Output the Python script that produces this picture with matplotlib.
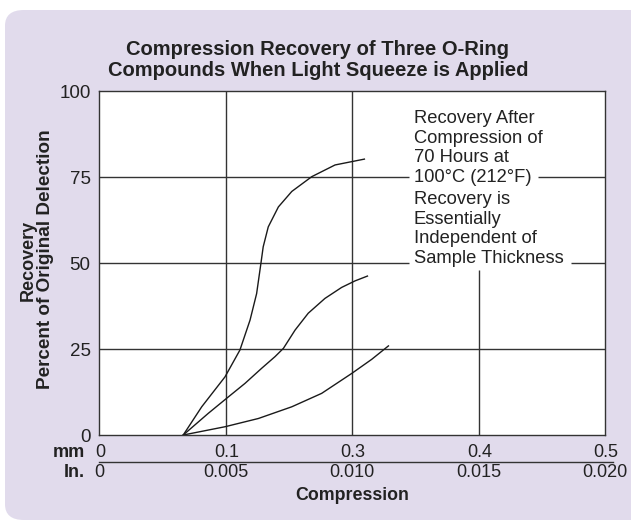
import matplotlib.pyplot as plt
from matplotlib.patches import FancyBboxPatch
import matplotlib.transforms as mtransforms

plt.rcParams['font.family'] = ['Liberation Sans', 'DejaVu Sans']

# Data (x in inches of compression, y in % recovery)
curve_high_x = [0.00333, 0.00406, 0.00498, 0.00557, 0.00597, 0.00623, 0.00640, 0.00649,
                0.00669, 0.00709, 0.00762, 0.00841, 0.00933, 0.01049]
curve_high_y = [0, 8.2, 16.9, 24.7, 33.4, 41.1, 49.9, 54.7, 60.5, 66.3, 70.8, 75.1, 78.5, 80.2]
curve_mid_x = [0.00333, 0.00432, 0.00505, 0.00577, 0.00643, 0.00696, 0.00729, 0.00775,
               0.00827, 0.00893, 0.00959, 0.01012, 0.01061]
curve_mid_y = [0, 6.3, 10.7, 15.0, 19.4, 22.8, 25.2, 30.5, 35.4, 39.7, 42.9, 44.8, 46.2]
curve_low_x = [0.00333, 0.00498, 0.00630, 0.00762, 0.00880, 0.00999, 0.01078, 0.01144]
curve_low_y = [0, 2.4, 4.8, 8.2, 12.1, 17.9, 22.0, 25.9]

inch_ticks = [0, 0.005, 0.010, 0.015, 0.020]
inch_labels = ['0', '0.005', '0.010', '0.015', '0.020']
mm_labels = ['0', '0.1', '0.3', '0.4', '0.5']
y_ticks = [0, 25, 50, 75, 100]

title = 'Compression Recovery of Three O-Ring\nCompounds When Light Squeeze is Applied'
note_top = 'Recovery After\nCompression of\n70 Hours at\n100°C (212°F)'
note_bottom = 'Recovery is\nEssentially\nIndependent of\nSample Thickness'


def draw_chart():
    fig = plt.figure(figsize=(6.31, 5.25), dpi=100)
    bg = '#e1dbec'
    ink = '#222222'
    # rounded lavender panel
    panel = FancyBboxPatch((5 / 631, 5 / 525), 700 / 631, 510 / 525,
                           boxstyle='round,pad=0,rounding_size=0.03',
                           transform=fig.transFigure, facecolor=bg,
                           edgecolor='none', zorder=-1)
    fig.patches.append(panel)

    ax = fig.add_axes([99 / 631, 1 - 435 / 525, 506 / 631, 344 / 525])
    ax.set_zorder(1)
    ax.set_facecolor('white')
    ax.set_xlim(0, 0.020)
    ax.set_ylim(0, 100)
    for s in ax.spines.values():
        s.set_color('#333333')
        s.set_linewidth(1.0)

    # grid, broken where the notes sit
    gc = '#333333'
    ax.vlines([0.005, 0.010], 0, 100, color=gc, lw=1.0)
    ax.vlines(0.015, 0, 48.0, color=gc, lw=1.0)
    ax.hlines(25, 0, 0.020, color=gc, lw=1.0)
    ax.hlines([50, 75], 0, 0.01225, color=gc, lw=1.0)
    ax.hlines(75, 0.01735, 0.020, color=gc, lw=1.0)
    ax.hlines(50, 0.01866, 0.020, color=gc, lw=1.0)

    for xs, ys in [(curve_high_x, curve_high_y), (curve_mid_x, curve_mid_y), (curve_low_x, curve_low_y)]:
        ax.plot(xs, ys, color='#1a1a1a', lw=1.0)

    ax.set_yticks(y_ticks)
    ax.set_yticklabels([str(v) for v in y_ticks], fontsize=13.5, color=ink)
    ax.tick_params(axis='y', length=0, pad=6)
    ax.set_xticks(inch_ticks)
    ax.set_xticklabels([])
    ax.tick_params(axis='x', length=0)

    trans = mtransforms.blended_transform_factory(ax.transData, ax.transAxes)
    for x, m, i in zip(inch_ticks, mm_labels, inch_labels):
        ax.text(x + 0.00004, -0.052, m, transform=trans, ha='center', va='center',
                fontsize=13, color=ink)
        ax.text(x, -0.110, i, transform=trans, ha='center', va='center',
                fontsize=13, color=ink)
    ax.plot([0, 0.0203], [-0.0785, -0.0785], transform=trans, color='#333333',
            lw=1.0, clip_on=False)
    ax.text(-0.028, -0.052, 'mm', transform=ax.transAxes, ha='right', va='center',
            fontsize=13, fontweight='bold', color=ink)
    ax.text(-0.028, -0.110, 'In.', transform=ax.transAxes, ha='right', va='center',
            fontsize=13, fontweight='bold', color=ink)
    ax.text(0.5, -0.177, 'Compression', transform=ax.transAxes, ha='center',
            va='center', fontsize=12.8, fontweight='bold', color=ink)

    fig.text(28 / 631, 1 - 260 / 525, 'Recovery', rotation=90, ha='center',
             va='center', fontsize=13, fontweight='bold', color=ink)
    fig.text(46 / 631, 1 - 259 / 525, 'Percent of Original Delection', rotation=90,
             ha='center', va='center', fontsize=13.6, fontweight='bold', color=ink)

    fig.text(318 / 631, 1 - 60 / 525, title, ha='center', va='center',
             fontsize=14.5, fontweight='bold', color=ink, linespacing=1.15)

    ax.text(0.01245, 94.5, note_top, ha='left', va='top', fontsize=13.2,
            color=ink, linespacing=1.2)
    ax.text(0.01245, 70.9, note_bottom, ha='left', va='top', fontsize=13.2,
            color=ink, linespacing=1.2)

    fig.savefig('out.png', dpi=100, facecolor='white')


if __name__ == "__main__":
    draw_chart()
